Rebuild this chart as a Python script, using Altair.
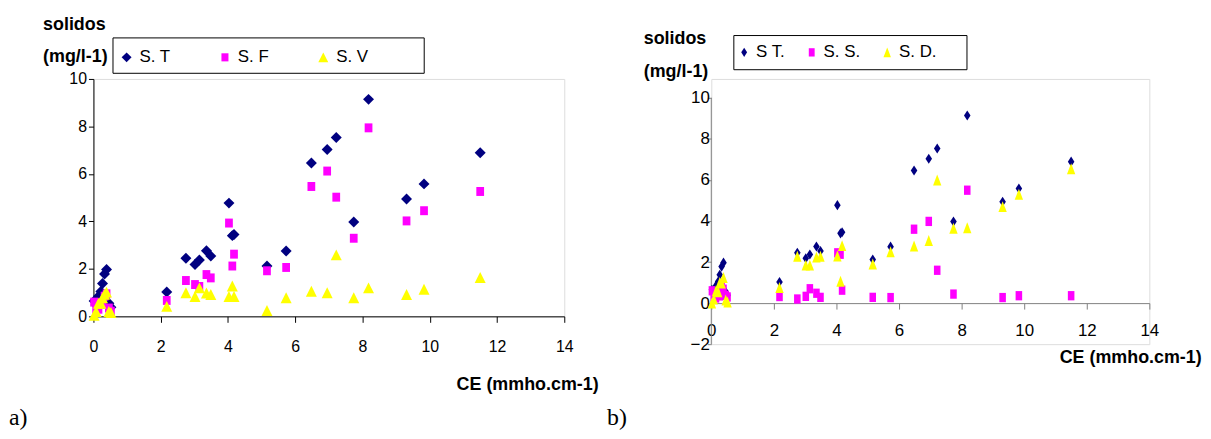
import altair as alt
import pandas as pd

# ---- data ----
ce = [0.02, 0.08, 0.15, 0.22, 0.27, 0.33, 0.39, 0.46, 0.52,
      2.18, 2.75, 3.02, 3.15, 3.36, 3.49, 4.03, 4.13, 4.18,
      5.16, 5.73, 6.48, 6.95, 7.22, 7.74, 8.18, 9.31, 9.83, 11.5]

# panel a
s_t = [0.65, 0.50, 0.85, 1.05, 1.38, 1.78, 1.97, 0.55, 0.38,
       1.03, 2.45, 2.18, 2.37, 2.76, 2.54, 4.77, 3.40, 3.45,
       2.12, 2.75, 6.46, 7.03, 7.53, 3.97, 9.14, 4.94, 5.58, 6.89]
s_f = [0.60, 0.30, 0.30, 0.50, 0.60, 0.85, 0.95, 0.35, 0.22,
       0.67, 1.51, 1.34, 1.26, 1.76, 1.62, 3.93, 2.12, 2.62,
       1.92, 2.06, 5.47, 6.12, 5.02, 3.29, 7.94, 4.02, 4.45, 5.26]
s_v = [0.05, 0.20, 0.55, 0.55, 0.78, 0.93, 1.02, 0.20, 0.16,
       0.42, 0.99, 0.84, 1.20, 0.98, 0.92, 0.84, 1.28, 0.84,
       0.25, 0.78, 1.06, 0.99, 2.59, 0.78, 1.20, 0.92, 1.14, 1.64]
# panel b
s_s = [0.60, 0.30, 0.25, 0.50, 0.35, 0.78, 0.68, 0.38, 0.30,
       0.32, 0.20, 0.33, 0.70, 0.48, 0.28, 2.45, 2.38, 0.63,
       0.28, 0.27, 3.60, 3.98, 1.60, 0.44, 5.50, 0.27, 0.36, 0.36]
s_d = [0.00, 0.20, 0.60, 0.55, 1.00, 0.98, 1.25, 0.15, 0.05,
       0.76, 2.28, 1.85, 1.85, 2.24, 2.28, 2.30, 1.06, 2.80,
       1.90, 2.50, 2.78, 3.05, 6.00, 3.65, 3.67, 4.70, 5.30, 6.55]

series_a = ["S. T", "S. F", "S. V"]
series_b = ["S T.", "S. S.", "S. D."]
x_ticks = [0, 2, 4, 6, 8, 10, 12, 14]
y_ticks_a = [0, 2, 4, 6, 8, 10]
y_ticks_b = [-2, 0, 2, 4, 6, 8, 10]

y_title_1 = "solidos"
y_title_2 = "(mg/l-1)"
x_title = "CE (mmho.cm-1)"

# ---- styles ----
FONT = "Liberation Sans"
SERIF = "Liberation Serif"
NB = "\u00a0"
GRAY = "#808080"
colors = ["#000080", "#FF00FF", "#FFFF00"]
shapes_a = ["M0,-0.92L0.92,0L0,0.92L-0.92,0Z",
            "M-0.65,-0.75L0.65,-0.75L0.65,0.75L-0.65,0.75Z",
            "M0,-0.92L0.92,0.92L-0.92,0.92Z"]
shapes_b = ["M0,-0.85L0.55,0L0,0.85L-0.55,0Z",
            "M-0.55,-0.78L0.55,-0.78L0.55,0.78L-0.55,0.78Z",
            "M0,-0.92L0.7,0.92L-0.7,0.92Z"]


def long_df(names, cols):
    rows = []
    for name, vals in zip(names, cols):
        for x, y in zip(ce, vals):
            rows.append({"ce": x, "val": y, "serie": name})
    return pd.DataFrame(rows)


def text_layer(txt, x, y, size, bold=False, align="left", font=FONT):
    return alt.Chart(pd.DataFrame({"t": [txt]})).mark_text(
        align=align, baseline="middle", font=font, fontSize=size,
        fontWeight="bold" if bold else "normal", color="black"
    ).encode(x=alt.value(x), y=alt.value(y), text="t:N")


def box_layer(x1, x2, y1, y2):
    return alt.Chart(pd.DataFrame({"b": [0]})).mark_rect(
        fill="white", stroke="black", strokeWidth=1
    ).encode(x=alt.value(x1), x2=alt.value(x2), y=alt.value(y1), y2=alt.value(y2))


def anchor_layer(x1, x2, y):
    return alt.Chart(pd.DataFrame({"b": [0]})).mark_rule(
        color="white", strokeWidth=1
    ).encode(x=alt.value(x1), x2=alt.value(x2), y=alt.value(y))


df_a = long_df(series_a, [s_t, s_f, s_v])
df_b = long_df(series_b, [s_t, s_s, s_d])

# ---- panel a ----
leg_a = alt.Legend(
    orient="none", legendX=24.9, legendY=-30.5, direction="horizontal",
    columns=3, title=None, labelFont=FONT, labelFontSize=17, labelColor="black",
    labelOffset=4.5, columnPadding=46, symbolSize=118, symbolStrokeWidth=0,
    symbolOpacity=1, padding=0, labelLimit=0, gridAlign="each",
    labelExpr="datum.label == 'S. T' ? 'S. T" + NB * 6 + "' : datum.label",
)
pts_a = alt.Chart(df_a).mark_point(filled=True, opacity=1, size=144, strokeWidth=0).encode(
    x=alt.X("ce:Q", scale=alt.Scale(domain=[0, 14], nice=False, zero=False),
            axis=alt.Axis(values=x_ticks, title=None, grid=False, domainColor="black",
                          tickColor="black", tickSize=6, labelFont=FONT, labelFontSize=16,
                          labelColor="black", labelPadding=16, labelFlush=False)),
    y=alt.Y("val:Q", scale=alt.Scale(domain=[0, 10], nice=False),
            axis=alt.Axis(values=y_ticks_a, title=None, grid=False, domainColor="black",
                          tickColor="black", tickSize=5, labelFont=FONT, labelFontSize=16,
                          labelColor="black", labelPadding=2, labelFlush=False)),
    color=alt.Color("serie:N", scale=alt.Scale(domain=series_a, range=colors), legend=leg_a),
    shape=alt.Shape("serie:N", scale=alt.Scale(domain=series_a, range=shapes_a), legend=leg_a),
)
panel_a = alt.layer(
    box_layer(19.7, 333, -41.3, -5.7),
    pts_a,
    text_layer(y_title_1, -50.7, -54.3, 18, bold=True),
    text_layer(y_title_2, -50.7, -22, 18, bold=True),
    text_layer(x_title, 508.6, 308, 18, bold=True, align="right"),
    text_layer("a)", -85, 341, 24, font=SERIF),
    anchor_layer(-85, 513, -69),
).properties(width=474, height=239)

# ---- panel b ----
# the plot group starts 19 px above the value 10 so both panels share a top edge;
# the y axis line itself is drawn from -2 to 10 only.
B_TOP = 10 + 19 / 20.667
leg_b = alt.Legend(
    orient="none", legendX=24.6, legendY=-35.5, direction="horizontal",
    columns=3, title=None, labelFont=FONT, labelFontSize=17, labelColor="black",
    labelOffset=3.4, columnPadding=18, symbolSize=115, symbolStrokeWidth=0,
    symbolOpacity=1, padding=0, labelLimit=0, gridAlign="each",
    labelExpr="datum.label == 'S T.' ? 'S T." + NB * 5 + "' : datum.label",
)
xb = alt.X("ce:Q", scale=alt.Scale(domain=[0, 14], nice=False, zero=False),
           axis=alt.Axis(values=x_ticks, title=None, grid=False, domainColor=GRAY,
                         tickColor=GRAY, tickSize=6, labelFont=FONT, labelFontSize=17,
                         labelColor="black", labelPadding=14, labelFlush=False,
                         offset=-41.33))
yb = alt.Y("val:Q", scale=alt.Scale(domain=[-2, B_TOP], nice=False, zero=False),
           axis=alt.Axis(values=y_ticks_b, title=None, grid=False, domain=False,
                         tickColor=GRAY, tickSize=4, labelFont=FONT, labelFontSize=17,
                         labelColor="black", labelPadding=-2, labelFlush=False))
pts_b = alt.Chart(df_b).mark_point(filled=True, opacity=1, size=144, strokeWidth=0).encode(
    x=xb, y=yb,
    color=alt.Color("serie:N", scale=alt.Scale(domain=series_b, range=colors), legend=leg_b),
    shape=alt.Shape("serie:N", scale=alt.Scale(domain=series_b, range=shapes_b), legend=leg_b),
)
yaxis_line_b = alt.Chart(pd.DataFrame({"ce": [0], "val": [y_ticks_b[0]], "val2": [y_ticks_b[-1]]})).mark_rule(
    color=GRAY, strokeWidth=1
).encode(x=alt.X("ce:Q"), y=alt.Y("val:Q"), y2="val2:Q")

panel_b = alt.layer(
    box_layer(22.7, 257.4, -43.7, -9.3),
    yaxis_line_b,
    pts_b,
    text_layer(y_title_1, -68, -39.7, 18, bold=True),
    text_layer(y_title_2, -68, -7, 18, bold=True),
    text_layer(x_title, 493.7, 281.3, 18, bold=True, align="right"),
    text_layer("b)", -105, 341, 24, font=SERIF),
    anchor_layer(-107, -100, -69),
).properties(width=441, height=267)

chart = alt.hconcat(panel_a, panel_b, spacing=0).resolve_scale(
    x="independent", y="independent", color="independent", shape="independent"
).configure_view(stroke=None).configure(font=FONT).properties(padding=0)

chart.save("out.html", embed_options={"renderer": "svg", "actions": False})
